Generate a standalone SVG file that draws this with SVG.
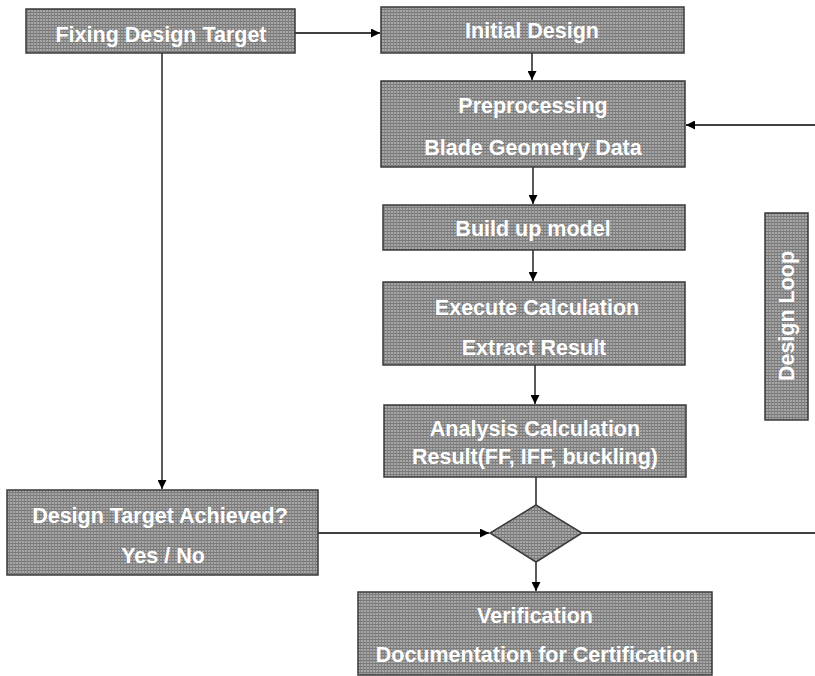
<svg xmlns="http://www.w3.org/2000/svg" width="815" height="676" viewBox="0 0 815 676">
  <defs>
    <pattern id="dither" width="3" height="3" patternUnits="userSpaceOnUse">
      <rect width="3" height="3" fill="#a6a6a6"/>
      <rect width="3" height="1" fill="#777777"/>
      <rect width="1" height="3" fill="#828282"/>
    </pattern>
    <marker id="arrow" viewBox="0 0 10 10" refX="10" refY="5" markerWidth="9" markerHeight="9" markerUnits="userSpaceOnUse" orient="auto">
      <path d="M0,0 L10,5 L0,10 z" fill="#000"/>
    </marker>
    <style>
      .box { fill: url(#dither); stroke: #3a3a3a; stroke-width: 1.5; }
      .lbl { font-family: "Liberation Sans", Arial, sans-serif; font-weight: bold; font-size: 21.5px; fill: #ffffff; text-anchor: middle; }
      .conn { stroke: #000; stroke-width: 1.3; fill: none; }
    </style>
  </defs>
  <rect width="815" height="676" fill="#ffffff"/>

  <g id="connectors">
    <line class="conn" x1="295" y1="33" x2="380" y2="33" marker-end="url(#arrow)"/>
    <line class="conn" x1="162" y1="53" x2="162" y2="489" marker-end="url(#arrow)"/>
    <line class="conn" x1="532" y1="53" x2="532" y2="80" marker-end="url(#arrow)"/>
    <line class="conn" x1="815" y1="125" x2="686" y2="125" marker-end="url(#arrow)"/>
    <line class="conn" x1="533" y1="167" x2="533" y2="204" marker-end="url(#arrow)"/>
    <line class="conn" x1="533" y1="250" x2="533" y2="281" marker-end="url(#arrow)"/>
    <line class="conn" x1="535" y1="365" x2="535" y2="404" marker-end="url(#arrow)"/>
    <line class="conn" x1="536" y1="477" x2="536" y2="505" stroke-width="1"/>
    <line class="conn" x1="318" y1="533" x2="489" y2="533" marker-end="url(#arrow)"/>
    <line class="conn" x1="582" y1="533" x2="815" y2="533"/>
    <line class="conn" x1="536" y1="562" x2="536" y2="591" marker-end="url(#arrow)"/>
  </g>

  <g id="fixing-design-target">
    <rect class="box" x="26" y="9" width="269" height="44"/>
    <text class="lbl" x="161" y="42">Fixing Design Target</text>
  </g>

  <g id="initial-design">
    <rect class="box" x="381" y="7" width="303" height="46"/>
    <text class="lbl" x="532" y="38">Initial Design</text>
  </g>

  <g id="preprocessing">
    <rect class="box" x="381" y="81" width="304" height="86"/>
    <text class="lbl" x="533" y="113">Preprocessing</text>
    <text class="lbl" x="533" y="155">Blade Geometry Data</text>
  </g>

  <g id="build-up-model">
    <rect class="box" x="383" y="205" width="302" height="45"/>
    <text class="lbl" x="533" y="236">Build up model</text>
  </g>

  <g id="execute-calculation">
    <rect class="box" x="383" y="282" width="302" height="83"/>
    <text class="lbl" x="537" y="315">Execute Calculation</text>
    <text class="lbl" x="534" y="355">Extract Result</text>
  </g>

  <g id="analysis-calculation">
    <rect class="box" x="384" y="405" width="302" height="72"/>
    <text class="lbl" x="535" y="436">Analysis Calculation</text>
    <text class="lbl" x="535" y="464">Result(FF, IFF, buckling)</text>
  </g>

  <g id="design-loop">
    <rect class="box" x="765" y="213" width="43" height="207"/>
    <text class="lbl" transform="translate(794,316) rotate(-90)" x="0" y="0">Design Loop</text>
  </g>

  <g id="design-target-achieved">
    <rect class="box" x="7" y="490" width="311" height="85"/>
    <text class="lbl" x="160" y="523">Design Target Achieved?</text>
    <text class="lbl" x="163" y="563">Yes / No</text>
  </g>

  <g id="decision">
    <polygon class="box" points="536,505 582,533 536,562 490,533"/>
  </g>

  <g id="verification">
    <rect class="box" x="358" y="592" width="354" height="83"/>
    <text class="lbl" x="535" y="623">Verification</text>
    <text class="lbl" x="537" y="662">Documentation for Certification</text>
  </g>
</svg>
